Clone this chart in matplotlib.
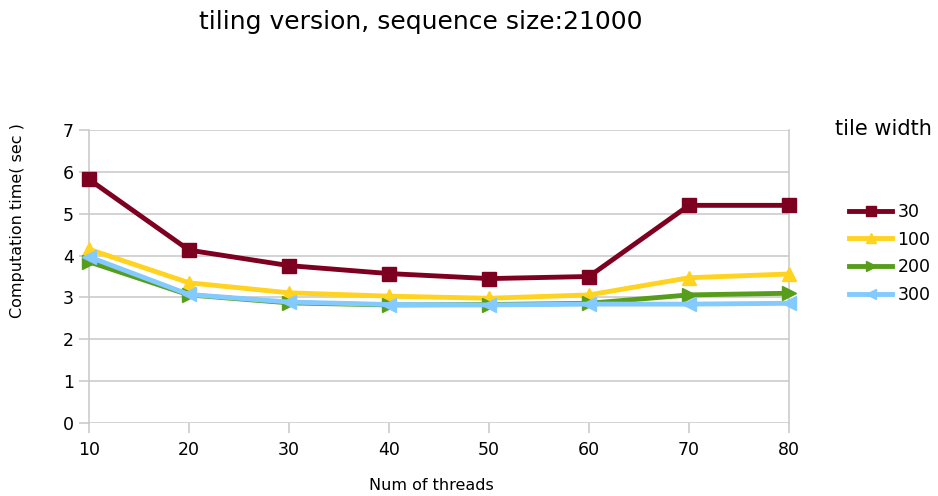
import matplotlib
matplotlib.use("Agg")
import matplotlib.pyplot as plt

threads = [10, 20, 30, 40, 50, 60, 70, 80]
tile_widths = ["30", "100", "200", "300"]
time_30 = [5.82, 4.13, 3.76, 3.57, 3.45, 3.50, 5.20, 5.20]
time_100 = [4.15, 3.35, 3.11, 3.03, 2.98, 3.06, 3.47, 3.56]
time_200 = [3.85, 3.06, 2.87, 2.82, 2.83, 2.86, 3.06, 3.10]
time_300 = [3.97, 3.07, 2.89, 2.83, 2.82, 2.84, 2.84, 2.86]

series = [time_30, time_100, time_200, time_300]
colors = ["#7e0021", "#ffd320", "#579d1c", "#83caff"]
markers = ["s", "^", ">", "<"]

plt.rcParams["font.family"] = ["DejaVu Sans"]

fig = plt.figure(figsize=(9.38, 4.96), dpi=100)
ax = fig.add_axes([89 / 938, 1 - 423 / 496, 700 / 938, 293 / 496])

handles = []
for vals, c, m, lab in zip(series, colors, markers, tile_widths):
    h, = ax.plot(threads, vals, color=c, marker=m, lw=3.5, ms=10,
                 markeredgecolor=c, label=lab, clip_on=False, zorder=3)
    handles.append(h)

ax.set_xlim(10, 80)
ax.set_ylim(0, 7)
ax.set_xticks(threads)
ax.set_yticks(range(0, 8))
ax.yaxis.grid(True, color="#c8c8c8", lw=1.1)
ax.set_axisbelow(True)
for side in ["top", "bottom"]:
    ax.spines[side].set_visible(False)
for side in ["left", "right"]:
    ax.spines[side].set_color("#c8c8c8")
    ax.spines[side].set_linewidth(1.1)
ax.tick_params(axis="both", colors="#c8c8c8", length=7, width=1.1,
               labelcolor="black", labelsize=12.5)
ax.tick_params(axis="x", pad=6)
ax.tick_params(axis="y", pad=4)

fig.text(421 / 938, 1 - 22 / 496, "tiling version, sequence size:21000",
         ha="center", va="center", fontsize=18)
fig.text(431 / 938, 1 - 485 / 496, "Num of threads", ha="center",
         va="center", fontsize=11.5)
fig.text(18 / 938, 1 - 221 / 496, "Computation time( sec )", ha="center",
         va="center", rotation=90, fontsize=11.5)
fig.text(883 / 938, 1 - 129 / 496, "tile width", ha="center",
         va="center", fontsize=15)

fig.legend(handles=handles, loc="upper left",
           bbox_to_anchor=(849 / 938, 1 - 203 / 496), frameon=False,
           fontsize=12.5, handlelength=2.5, handletextpad=0.3,
           labelspacing=0.55, borderaxespad=0, borderpad=0,
           markerscale=0.75)

fig.savefig("out.png", dpi=100)
